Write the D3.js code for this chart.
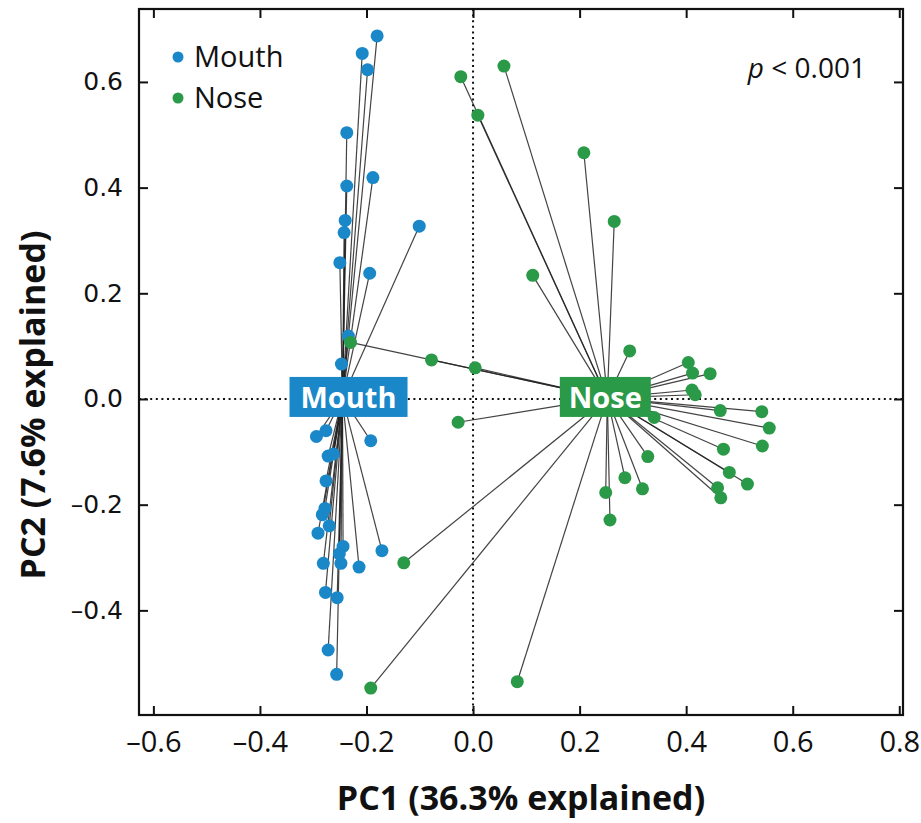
<!DOCTYPE html>
<html>
<head>
<meta charset="utf-8">
<script src="https://cdn.jsdelivr.net/npm/d3@7"></script>
<style>
  body { margin: 0; background: #fff; }
  svg { display: block; }
</style>
</head>
<body>
<div id="chart"></div>
<script>
// PCA scores
var mouthX = [-0.180, -0.208, -0.198, -0.237, -0.237, -0.188, -0.240, -0.242, -0.250, -0.194, -0.101, -0.234, -0.247,
              -0.294, -0.276, -0.192, -0.272, -0.262, -0.276, -0.278, -0.283, -0.270, -0.291, -0.244, -0.251, -0.171,
              -0.281, -0.248, -0.214, -0.277, -0.255, -0.272, -0.256];
var mouthY = [0.687, 0.654, 0.623, 0.504, 0.403, 0.419, 0.338, 0.315, 0.258, 0.238, 0.327, 0.119, 0.066,
              -0.071, -0.060, -0.079, -0.108, -0.104, -0.155, -0.207, -0.219, -0.240, -0.254, -0.279, -0.293, -0.287,
              -0.311, -0.311, -0.318, -0.366, -0.376, -0.475, -0.521];
var noseX = [-0.023, 0.058, 0.009, 0.208, 0.265, 0.112, 0.294, 0.404, 0.412, 0.445, 0.411, 0.417, 0.464, 0.542,
             0.556, 0.340, 0.543, 0.470, 0.328, 0.481, 0.515, 0.285, 0.318, 0.459, 0.465, 0.249, 0.257,
             -0.230, -0.078, 0.004, -0.028, -0.130, -0.192, 0.083];
var noseY = [0.610, 0.630, 0.537, 0.466, 0.336, 0.234, 0.091, 0.069, 0.049, 0.048, 0.017, 0.008, -0.022, -0.024,
             -0.055, -0.035, -0.089, -0.095, -0.109, -0.139, -0.161, -0.149, -0.170, -0.168, -0.187, -0.177, -0.229,
             0.107, 0.074, 0.059, -0.044, -0.310, -0.547, -0.535];
var groups = ["Mouth", "Nose"];
var centroidX = [-0.245, 0.252];
var centroidY = [0.002, 0.002];
var xTicks = [-0.6, -0.4, -0.2, 0.0, 0.2, 0.4, 0.6, 0.8];
var yTicks = [-0.4, -0.2, 0.0, 0.2, 0.4, 0.6];

var colors = { Mouth: "#1a87c8", Nose: "#2b9a48" };

var W = 921, H = 823;
var fL = 139, fR = 903, fT = 9, fB = 715;

var svg = d3.select("#chart").append("svg")
    .attr("width", W)
    .attr("height", H);

var x = d3.scaleLinear().domain([-0.627, 0.807]).range([fL, fR]);
var y = d3.scaleLinear().domain([-0.598, 0.738]).range([fB, fT]);

var points = [];
mouthX.forEach(function (v, i) { points.push({ g: 0, x: v, y: mouthY[i] }); });
noseX.forEach(function (v, i) { points.push({ g: 1, x: v, y: noseY[i] }); });

// zero lines
svg.append("line")
    .attr("x1", x(0)).attr("x2", x(0))
    .attr("y1", fT).attr("y2", fB)
    .attr("stroke", "#111").attr("stroke-width", 2)
    .attr("stroke-dasharray", "2,3.6");
svg.append("line")
    .attr("x1", fL).attr("x2", fR)
    .attr("y1", y(0)).attr("y2", y(0))
    .attr("stroke", "#111").attr("stroke-width", 2)
    .attr("stroke-dasharray", "2,3.6");

// spider lines to the group centroid
svg.append("g").selectAll("line").data(points)
    .enter().append("line")
    .attr("x1", d => x(d.x))
    .attr("y1", d => y(d.y))
    .attr("x2", d => x(centroidX[d.g]))
    .attr("y2", d => y(centroidY[d.g]))
    .attr("stroke", "#222")
    .attr("stroke-opacity", 0.85)
    .attr("stroke-width", 1.2);

svg.append("g").selectAll("circle").data(points)
    .enter().append("circle")
    .attr("cx", d => x(d.x))
    .attr("cy", d => y(d.y))
    .attr("r", 6.5)
    .attr("fill", d => colors[groups[d.g]]);

// centroid labels
var boxW = [118, 91];
groups.forEach(function (g, i) {
    var cx = x(centroidX[i]), cy = y(centroidY[i]);
    var dx = i === 0 ? 6 : -2;
    svg.append("rect")
        .attr("x", cx + dx - boxW[i] / 2)
        .attr("y", cy - 21)
        .attr("width", boxW[i])
        .attr("height", 40)
        .attr("fill", colors[g]);
    svg.append("text")
        .attr("x", cx + dx)
        .attr("y", cy + 10)
        .attr("text-anchor", "middle")
        .attr("fill", "#fff")
        .style("font-family", "'Open Sans', sans-serif")
        .style("font-weight", "bold")
        .style("font-size", "29px")
        .text(g);
});

// frame with inward ticks
var fmt = d => (d < 0 ? "\u2013" : "") + Math.abs(d).toFixed(1);

var xAxisB = svg.append("g")
    .attr("transform", "translate(0," + fB + ")")
    .call(d3.axisBottom(x).tickValues(xTicks).tickSize(-9).tickPadding(16).tickFormat(fmt));
var xAxisT = svg.append("g")
    .attr("transform", "translate(0," + fT + ")")
    .call(d3.axisTop(x).tickValues(xTicks).tickSize(-9).tickFormat(""));
var yAxisL = svg.append("g")
    .attr("transform", "translate(" + fL + ",0)")
    .call(d3.axisLeft(y).tickValues(yTicks).tickSize(-9).tickPadding(16).tickFormat(fmt));
var yAxisR = svg.append("g")
    .attr("transform", "translate(" + fR + ",0)")
    .call(d3.axisRight(y).tickValues(yTicks).tickSize(-9).tickFormat(""));

[xAxisB, xAxisT, yAxisL, yAxisR].forEach(function (a) {
    a.select(".domain").remove();
    a.selectAll(".tick line").attr("stroke", "#111").attr("stroke-width", 2);
});
xAxisB.selectAll("text")
    .style("font-family", "'Open Sans', sans-serif")
    .style("font-size", "29px")
    .attr("fill", "#111");
yAxisL.selectAll("text")
    .style("font-family", "'DejaVu Sans', sans-serif")
    .style("font-size", "25px")
    .attr("fill", "#111");

svg.append("rect")
    .attr("x", fL).attr("y", fT)
    .attr("width", fR - fL).attr("height", fB - fT)
    .attr("fill", "none")
    .attr("stroke", "#111")
    .attr("stroke-width", 2.2);

// legend
groups.forEach(function (g, i) {
    svg.append("circle")
        .attr("cx", 178).attr("cy", 57 + i * 41)
        .attr("r", 5.5)
        .attr("fill", colors[g]);
    svg.append("text")
        .attr("x", 194).attr("y", 67 + i * 41)
        .style("font-family", "'Open Sans', sans-serif")
        .style("font-size", "29px")
        .attr("fill", "#111")
        .text(g);
});

var pt = svg.append("text")
    .attr("x", 866).attr("y", 78)
    .attr("text-anchor", "end")
    .style("font-family", "'Open Sans', sans-serif")
    .style("font-size", "28px")
    .attr("fill", "#111");
pt.append("tspan").style("font-style", "italic").text("p");
pt.append("tspan").text(" < 0.001");

// axis titles
svg.append("text")
    .attr("x", 521).attr("y", 810)
    .attr("text-anchor", "middle")
    .style("font-family", "'Open Sans', sans-serif")
    .style("font-weight", "bold")
    .style("font-size", "34px")
    .attr("fill", "#111")
    .text("PC1 (36.3% explained)");

svg.append("text")
    .attr("transform", "translate(45,405) rotate(-90)")
    .attr("text-anchor", "middle")
    .style("font-family", "'Open Sans', sans-serif")
    .style("font-weight", "bold")
    .style("font-size", "34px")
    .attr("fill", "#111")
    .text("PC2 (7.6% explained)");
</script>
</body>
</html>
